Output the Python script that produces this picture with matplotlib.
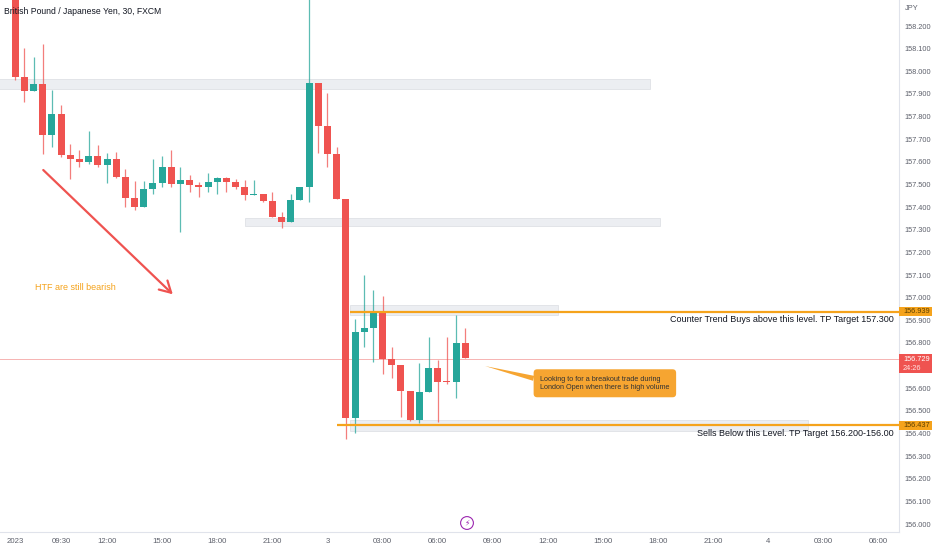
import numpy as np
import pandas as pd
import matplotlib
matplotlib.use("Agg")
import matplotlib.pyplot as plt
from matplotlib.patches import Rectangle

plt.rcParams['font.family'] = ['Liberation Sans Narrow', 'Liberation Sans', 'DejaVu Sans']

# GBP/JPY 30 min candles, 2 Jan 2023 07:00 onwards
times = pd.date_range('2023-01-02 07:00', periods=50, freq='30min')
opens = [158.350, 157.975, 157.914, 157.944, 157.720, 157.813, 157.632, 157.613, 157.599, 157.627,
         157.585, 157.613, 157.533, 157.440, 157.402, 157.480, 157.505, 157.576, 157.504, 157.519,
         157.499, 157.489, 157.512, 157.527, 157.512, 157.489, 157.452, 157.457, 157.426, 157.358,
         157.336, 157.431, 157.488, 157.947, 157.760, 157.635, 157.437, 156.467, 156.847, 156.866,
         156.931, 156.728, 156.703, 156.589, 156.460, 156.583, 156.691, 156.629, 156.627, 156.801]
highs = [158.400, 158.101, 158.062, 158.119, 157.917, 157.850, 157.679, 157.654, 157.738, 157.673,
         157.638, 157.642, 157.568, 157.514, 157.514, 157.611, 157.626, 157.651, 157.578, 157.542,
         157.512, 157.549, 157.533, 157.533, 157.524, 157.519, 157.519, 157.460, 157.467, 157.377,
         157.457, 157.490, 158.400, 157.947, 157.903, 157.666, 157.437, 156.906, 157.100, 157.034,
         157.007, 156.781, 156.703, 156.589, 156.710, 156.825, 156.725, 156.828, 156.923, 156.865]
lows = [157.961, 157.866, 157.914, 157.633, 157.667, 157.620, 157.523, 157.576, 157.590, 157.579,
        157.508, 157.530, 157.402, 157.387, 157.402, 157.457, 157.488, 157.488, 157.289, 157.468,
        157.445, 157.468, 157.459, 157.468, 157.481, 157.433, 157.452, 157.424, 157.356, 157.309,
        157.336, 157.431, 157.421, 157.638, 157.579, 157.437, 156.376, 156.404, 156.783, 156.715,
        156.662, 156.645, 156.474, 156.455, 156.445, 156.583, 156.452, 156.619, 156.556, 156.732]
closes = [157.975, 157.914, 157.944, 157.720, 157.813, 157.629, 157.611, 157.599, 157.627, 157.585,
          157.613, 157.532, 157.440, 157.402, 157.480, 157.505, 157.576, 157.504, 157.519, 157.498,
          157.489, 157.512, 157.527, 157.512, 157.489, 157.452, 157.458, 157.426, 157.358, 157.336,
          157.431, 157.490, 157.947, 157.760, 157.635, 157.437, 156.467, 156.847, 156.866, 156.931,
          156.728, 156.703, 156.589, 156.460, 156.583, 156.691, 156.629, 156.627, 156.801, 156.732]

tick_hours = [7, 9.5, 12, 15, 18, 21, 24, 27, 30, 33, 36, 39, 42, 45, 48, 51, 54]
tick_labels = ['2023', '09:30', '12:00', '15:00', '18:00', '21:00', '3', '03:00', '06:00',
               '09:00', '12:00', '15:00', '18:00', '21:00', '4', '03:00', '06:00']

buy_level = 156.939
sell_level = 156.437
last_price = 156.729

UP = '#26a69a'
DOWN = '#ef5350'
ORANGE = '#f5a31c'
ZONE = '#eceef2'

YMIN, YMAX = 155.965, 158.315

# hours since 2 Jan 00:00
x = np.array((times - pd.Timestamp('2023-01-02')).total_seconds() / 3600.0)
o = np.array(opens)
c = np.array(closes)
up = c >= o
colors = np.where(up, UP, DOWN)

fig = plt.figure(figsize=(9.32, 5.5), dpi=100)
ax = fig.add_axes([0, 18 / 550, 899 / 932, 532 / 550])

def price_fig_y(p):
    return (18 + (p - YMIN) / (YMAX - YMIN) * 532) / 550

# zones
zones = [(6.0, 41.56, 157.922, 157.966),
         (19.51, 42.10, 157.318, 157.352),
         (25.23, 36.55, 156.924, 156.968),
         (25.23, 50.16, 156.411, 156.460)]
for x0, x1, y0, y1 in zones:
    ax.add_patch(Rectangle((x0, y0), x1 - x0, y1 - y0, facecolor=ZONE,
                           edgecolor='#dfe1e6', lw=0.6, zorder=1))

ax.axhline(last_price, color='#f6b3b2', lw=0.7, zorder=1)

# candles
ax.vlines(x, lows, highs, colors=colors, lw=0.9, alpha=0.75, zorder=2)
body = np.maximum(np.abs(c - o), 0.004)
ax.bar(x, body, bottom=np.minimum(o, c), width=0.38, color=colors, linewidth=0, zorder=3)

# key levels
ax.hlines(buy_level, 25.23, 60, color=ORANGE, lw=1.6, zorder=4)
ax.hlines(sell_level, 24.52, 60, color=ORANGE, lw=1.6, zorder=4)
ax.text(54.84, 156.902, 'Counter Trend Buys above this level. TP Target 157.300',
        ha='right', va='center', fontsize=6.5, color='#131722')
ax.text(54.84, 156.398, 'Sells Below this Level. TP Target 156.200-156.00',
        ha='right', va='center', fontsize=6.5, color='#131722')

# bearish arrow and note
ax.annotate('', xy=(15.58, 157.015), xytext=(8.53, 157.564),
            arrowprops=dict(arrowstyle='->,head_length=0.8,head_width=0.45',
                            color=DOWN, lw=1.6, shrinkA=0, shrinkB=0))
ax.text(8.08, 157.043, 'HTF are still bearish', fontsize=6.5, color=ORANGE,
        ha='left', va='center')

# callout
ax.annotate('Looking to for a breakout trade during\nLondon Open when there is high volume',
            xy=(32.58, 156.698), xytext=(39.1, 156.622), ha='center', va='center',
            fontsize=5.2, color='#333333', multialignment='left',
            bbox=dict(boxstyle='round,pad=0.9,rounding_size=0.5', fc='#f6a531', ec='none'),
            arrowprops=dict(arrowstyle='wedge,tail_width=0.7', fc='#f6a531', ec='none',
                            shrinkA=0, shrinkB=0, relpos=(0, 0.72)))

ax.set_xlim(6.175, 55.11)
ax.set_ylim(YMIN, YMAX)

# axes styling
for s in ['top', 'left']:
    ax.spines[s].set_visible(False)
ax.spines['right'].set_color('#e0e3eb')
ax.spines['bottom'].set_color('#e0e3eb')
ax.yaxis.tick_right()
yt = np.round(np.arange(156.0, 158.25, 0.1), 1)
ax.set_yticks(yt)
ax.set_yticklabels(['%.3f' % v if abs(v - 156.7) > 0.01 else '' for v in yt])
ax.tick_params(axis='y', length=0, pad=4, labelsize=5.3, labelcolor='#5d606b')
ax.set_xticks(tick_hours)
ax.set_xticklabels(tick_labels)
ax.tick_params(axis='x', length=0, pad=4, labelsize=5.6, labelcolor='#5d606b')

# price labels on the scale
x_scale = 899 / 932
for price, label in [(buy_level, '156.939'), (sell_level, '156.437')]:
    yc = price_fig_y(price)
    fig.patches.append(Rectangle((x_scale, yc - 4.5 / 550), 1 - x_scale, 9 / 550,
                                 transform=fig.transFigure, facecolor=ORANGE, edgecolor='none', zorder=5))
    fig.text(903 / 932, yc, label, fontsize=5.3, color='#5d4000', ha='left', va='center', zorder=6)
yc = price_fig_y(last_price)
fig.patches.append(Rectangle((x_scale, yc - 14 / 550), 1 - x_scale, 19 / 550,
                             transform=fig.transFigure, facecolor=DOWN, edgecolor='none', zorder=5))
fig.text(903 / 932, yc, '156.729', fontsize=5.3, color='white', ha='left', va='center', zorder=6)
fig.text(903 / 932, yc - 9 / 550, '24:26', fontsize=5.3, color='#ffe3e3', ha='left', va='center', zorder=6)

fig.text(4 / 932, 1 - 11 / 550, 'British Pound / Japanese Yen, 30, FXCM',
         fontsize=6.2, color='#131722', ha='left', va='center')
fig.text(905 / 932, 1 - 9 / 550, 'JPY', fontsize=5.3, color='#5d606b', ha='left', va='center')
fig.text(467 / 932, 1 - 523 / 550, '\u26a1', fontsize=5.5, color='#9c27b0', ha='center', va='center',
         family=['DejaVu Sans'],
         bbox=dict(boxstyle='circle,pad=0.25', fc='white', ec='#9c27b0', lw=0.8))

fig.savefig('out.png', dpi=100)
